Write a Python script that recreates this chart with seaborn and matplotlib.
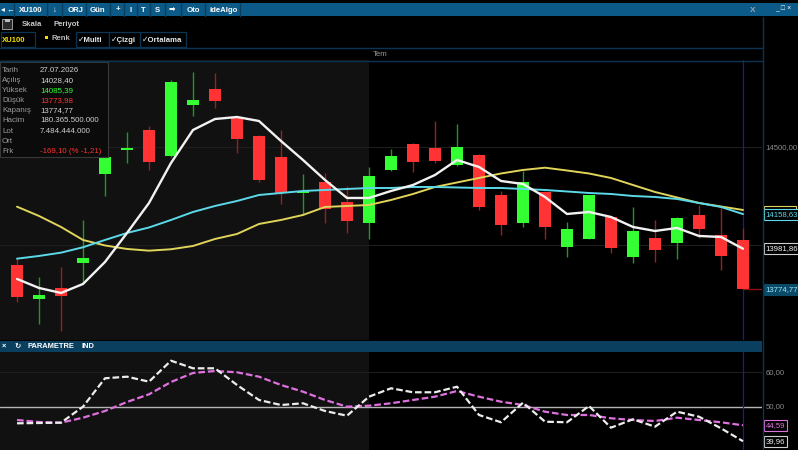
import seaborn as sns
import matplotlib.pyplot as plt
import pandas as pd
import numpy as np
from matplotlib.patches import Rectangle

sns.set_theme(style="dark", rc={"axes.facecolor": "black", "figure.facecolor": "black"})
plt.rcParams['font.family'] = ['Liberation Sans', 'DejaVu Sans']

# XU100 daily candles
opens = [13897.4, 13725.5, 13781.6, 13907.7, 14363.3, 14484.2, 14587.8, 14456.6, 14716.8, 14796.9,
         14650.5, 14557.1, 14451.5, 14264.8, 14324.0, 14221.9, 14111.7, 14383.7, 14516.3, 14494.4,
         14409.2, 14460.2, 14256.1, 14111.7, 14273.0, 13989.3, 14031.6, 14145.4, 13938.3, 14036.7,
         14009.7, 14154.1, 14052.0, 14028.40]
highs = [13934.7, 13837.8, 13888.8, 14128.6, 14475.5, 14579.1, 14609.7, 14842.9, 14882.1, 14877.0,
         14654.1, 14562.2, 14587.8, 14361.7, 14369.9, 14302.0, 14397.4, 14490.8, 14518.9, 14635.2,
         14616.8, 14462.8, 14276.5, 14378.6, 14276.5, 14116.8, 14256.1, 14147.4, 14193.4, 14128.6,
         14143.9, 14205.1, 14188.3, 14085.39]
lows = [13711.7, 13598.0, 13563.8, 13807.1, 14252.5, 14417.9, 14383.7, 14450.0, 14660.7, 14701.5,
        14468.9, 14322.4, 14210.2, 14154.1, 14111.7, 14060.7, 14030.1, 14381.0, 14373.5, 14420.9,
        14404.0, 14179.6, 14052.0, 14091.3, 14031.6, 13941.3, 14029.0, 13961.7, 13907.7, 13915.8,
        13928.1, 14035.2, 13873.5, 13773.98]
closes = [13737.2, 13745.9, 13742.3, 13936.2, 14450.0, 14497.4, 14423.0, 14834.2, 14739.3, 14734.2,
          14541.8, 14332.7, 14264.8, 14276.5, 14184.7, 14125.0, 14353.1, 14456.6, 14423.0, 14431.1,
          14499.5, 14193.4, 14103.1, 14324.0, 14094.4, 14081.1, 14254.6, 13984.2, 14072.4, 13975.5,
          14140.3, 14081.1, 13944.9, 13774.77]

# moving averages
ma_white = [13827.6, 13781.6, 13756.1, 13802.0, 13914.3, 14062.2, 14215.3, 14419.4, 14587.8, 14643.9,
            14654.1, 14633.7, 14531.6, 14434.7, 14332.7, 14240.8, 14240.8, 14276.5, 14307.1, 14358.2,
            14434.7, 14399.0, 14327.5, 14312.2, 14245.9, 14159.2, 14169.4, 14143.9, 14092.9, 14072.4,
            14087.8, 14046.9, 14041.8, 13981.86]
ma_cyan = [13931.1, 13944.9, 13961.7, 13989.3, 14026.5, 14062.2, 14090.3, 14128.6, 14169.4, 14200.0,
           14225.5, 14256.1, 14266.3, 14276.5, 14281.6, 14286.7, 14291.8, 14291.8, 14296.9, 14296.9,
           14294.4, 14291.8, 14291.8, 14286.7, 14281.6, 14274.0, 14266.3, 14261.2, 14251.0, 14245.9,
           14235.7, 14215.3, 14194.9, 14158.63]
ma_yellow = [14196.4, 14149.0, 14092.9, 14026.5, 13998.5, 13980.6, 13971.9, 13979.1, 13995.9, 14031.6,
             14057.1, 14108.2, 14128.6, 14154.1, 14194.9, 14200.0, 14205.1, 14230.6, 14261.2, 14296.9,
             14319.9, 14342.9, 14365.8, 14383.7, 14395.4, 14381.1, 14365.8, 14342.9, 14307.1, 14271.4,
             14243.4, 14215.3, 14197.4, 14179.6]

# lower indicator panel
ind_line = [45.17, 45.26, 45.35, 50.00, 58.26, 58.72, 57.27, 63.37, 61.16, 61.16,
            56.31, 51.95, 50.49, 50.99, 48.75, 47.38, 52.91, 55.35, 54.19, 54.19,
            55.81, 47.59, 45.47, 51.16, 45.64, 45.47, 50.20, 43.90, 46.34, 44.19,
            48.55, 47.09, 43.72, 39.96]
ind_avg = [46.13, 45.55, 45.35, 46.80, 48.75, 51.37, 53.60, 57.18, 59.80, 60.38,
           60.00, 58.72, 56.31, 54.36, 51.95, 50.00, 50.29, 50.99, 51.95, 52.91,
           54.56, 52.91, 51.45, 50.49, 48.55, 47.59, 47.59, 46.63, 46.13, 45.84,
           46.80, 46.13, 45.47, 44.59]

info_labels = ["Tarih", "Açılış", "Yüksek", "Düşük", "Kapanış", "Hacim", "Lot", "Ort", "Frk"]
info_values = ["27.07.2026", "14028,40", "14085,39", "13773,98", "13774,77",
               "180.365.500.000", "7.484.444.000", "", "-169,10 (% -1,21)"]

df = pd.DataFrame({"open": opens, "high": highs, "low": lows, "close": closes,
                   "ma_w": ma_white, "ma_c": ma_cyan, "ma_y": ma_yellow,
                   "ind": ind_line, "ind_avg": ind_avg})
df["idx"] = np.arange(len(df))
df["up"] = df["close"] >= df["open"]

W, H = 798, 450
fig = plt.figure(figsize=(W / 100, H / 100), dpi=100)
fig.patch.set_facecolor("black")

chart_w = 762 / W
ax = fig.add_axes([0, 110 / H, chart_w, 280 / H])
ax2 = fig.add_axes([0, 0, chart_w, 99 / H])

xmin, xmax = -0.773, 33.864
last = len(df) - 1

# ---------------- main price panel ----------------
ax.set_facecolor("black")
ax.axvspan(xmin, 16, color="#111111", zorder=0, lw=0)
for lvl in [14500, 14000]:
    ax.axhline(lvl, color="#1e1e1e", lw=0.8, zorder=0.5)
ax.axvline(last, color="#1c1c8c", lw=0.9, zorder=0.6)

up = df[df["up"]]
dn = df[~df["up"]]
ax.vlines(up["idx"], up["low"], up["high"], color="#1f9a1f", lw=1.0, zorder=2)
ax.vlines(dn["idx"], dn["low"], dn["high"], color="#9a1f1f", lw=1.0, zorder=2)
ax.bar(up["idx"], (up["close"] - up["open"]).clip(lower=8), bottom=up["open"], width=0.55,
       color="#33ff33", linewidth=0, zorder=3)
ax.bar(dn["idx"], (dn["open"] - dn["close"]).clip(lower=8), bottom=dn["close"], width=0.55,
       color="#ff3333", linewidth=0, zorder=3)
ax.hlines(closes[-1], last, xmax, color="#8a1010", lw=1.0, zorder=2)

sns.lineplot(data=df, x="idx", y="ma_y", ax=ax, color="#e0d45a", lw=1.4, zorder=4)
sns.lineplot(data=df, x="idx", y="ma_c", ax=ax, color="#5cd9e8", lw=1.4, zorder=4)
sns.lineplot(data=df, x="idx", y="ma_w", ax=ax, color="#f2f2f2", lw=1.7, zorder=5)

ax.set_xlim(xmin, xmax)
ax.set_ylim(13516, 14945)
ax.set_xticks([]); ax.set_yticks([])
ax.set_xlabel(""); ax.set_ylabel("")
for s in ax.spines.values():
    s.set_visible(False)

ty = ax.get_yaxis_transform()
lab = dict(transform=ty, ha="left", va="center", fontsize=5.6, clip_on=False, zorder=8)
ax.text(1.005, 14500, "14500,00", color="#8a8a8a", **lab)
# yellow MA label sits almost fully behind the cyan one
ax.add_patch(Rectangle((1.002, ma_yellow[-1] - 30), 0.043, 50, transform=ty, clip_on=False,
                       fc="black", ec="#e0d45a", lw=0.8, zorder=7))
ax.text(1.005, 14158.63, "14158,63", color="#5cd9e8",
        bbox=dict(boxstyle="square,pad=0.25", fc="black", ec="#5cd9e8", lw=0.8), **lab)
ax.text(1.005, 13981.86, "13981,86", color="#f2f2f2",
        bbox=dict(boxstyle="square,pad=0.25", fc="black", ec="#cfcfcf", lw=0.8), **lab)
ax.text(1.005, 13774.77, "13774,77", color="#9fe8ff",
        bbox=dict(boxstyle="square,pad=0.25", fc="#0b4a66", ec="#0b4a66", lw=0.8), **lab)

# ---------------- lower indicator panel ----------------
ax2.set_facecolor("black")
ax2.axvspan(xmin, 16, color="#111111", zorder=0, lw=0)
ax2.axhline(60, color="#1e1e1e", lw=0.8, zorder=0.5)
ax2.axhline(50, color="#b4b4b4", lw=1.0, zorder=0.6)
ax2.axvline(last, color="#1c1c8c", lw=0.9, zorder=0.6)
sns.lineplot(data=df, x="idx", y="ind_avg", ax=ax2, color="#e070e0", lw=1.6, zorder=3,
             dashes=False, linestyle=(0, (3, 1.3)))
sns.lineplot(data=df, x="idx", y="ind", ax=ax2, color="#ececec", lw=1.6, zorder=4,
             dashes=False, linestyle=(0, (3, 1.3)))
ax2.set_xlim(xmin, xmax)
ax2.set_ylim(37.41, 66.19)
ax2.set_xticks([]); ax2.set_yticks([])
ax2.set_xlabel(""); ax2.set_ylabel("")
for s in ax2.spines.values():
    s.set_visible(False)

ty2 = ax2.get_yaxis_transform()
lab2 = dict(transform=ty2, ha="left", va="center", fontsize=5.6, clip_on=False)
ax2.text(1.005, 60, "60,00", color="#8a8a8a", **lab2)
ax2.text(1.005, 50, "50,00", color="#8a8a8a", **lab2)
ax2.text(1.005, ind_avg[-1], "44,59", color="#e070e0",
         bbox=dict(boxstyle="square,pad=0.25", fc="black", ec="#e070e0", lw=0.8), **lab2)
ax2.text(1.005, ind_line[-1], "39,96", color="#ececec",
         bbox=dict(boxstyle="square,pad=0.25", fc="black", ec="#cfcfcf", lw=0.8), **lab2)

# ---------------- window chrome (pixel coordinates) ----------------
ui = fig.add_axes([0, 0, 1, 1], zorder=10)
ui.set_xlim(0, W); ui.set_ylim(H, 0)
ui.axis("off")

line_c = "#0a3452"
ui.add_patch(Rectangle((0, 3), W, 13, fc="#0c5a88", ec="none"))
for xs in [14, 47, 62, 86, 110, 124, 137, 150, 165, 181, 205, 240]:
    ui.plot([xs, xs], [3, 16], color="#083e60", lw=1)
tb = dict(color="white", fontsize=5.6, fontweight="bold", va="center")
ui.text(1, 10, "◂ ←", **tb)
ui.text(19, 10, "XU100", **tb)
ui.text(53, 10, "↓", **tb)
ui.text(68, 10, "ORJ", **tb)
ui.text(90, 10, "Gün", **tb)
ui.text(116, 10, "+", **tb)
ui.text(130, 10, "I", **tb)
ui.text(141, 10, "T", **tb)
ui.text(155, 10, "S", **tb)
ui.text(169, 10, "➡", **tb)
ui.text(187, 10, "Oto", **tb)
ui.text(209, 10, "ideAlgo", **tb)
ui.text(750, 10, "X", color="#9aa0a6", fontsize=6, fontweight="bold", va="center")
ui.text(775, 9, "_ □ ×", color="white", fontsize=5, va="center")

ui.add_patch(Rectangle((2, 18.5), 10, 10, fc="#2a2a2a", ec="#9a9a9a", lw=0.7))
ui.add_patch(Rectangle((4.5, 18.5), 5, 3.5, fc="#bbbbbb", ec="none"))
ui.text(22, 24, "Skala", color="#c8c8c8", fontsize=5.6, fontweight="bold", va="center")
ui.text(54, 24, "Periyot", color="#c8c8c8", fontsize=5.6, fontweight="bold", va="center")

ui.add_patch(Rectangle((0.5, 32), 34, 15, fc="black", ec=line_c, lw=0.9))
ui.text(2, 40, "XU100", color="#f0e000", fontsize=5.6, fontweight="bold", va="center")
ui.add_patch(Rectangle((45, 36), 3, 3, fc="#f0e000", ec="none"))
ui.text(51, 38.5, "Renk", color="#b8b8b8", fontsize=5.6, fontweight="bold", va="center")
for x0, w, t in [(76, 33, "✓Multi"), (109, 31, "✓Çizgi"), (140, 46, "✓Ortalama")]:
    ui.add_patch(Rectangle((x0, 32), w, 15, fc="black", ec=line_c, lw=0.9))
    ui.text(x0 + 2, 40, t, color="#e8e8e8", fontsize=5.6, fontweight="bold", va="center")

ui.plot([0, 762], [47.5, 47.5], color=line_c, lw=1)
ui.plot([0, 762], [60.5, 60.5], color=line_c, lw=1)
ui.plot([762.5, 762.5], [17, H], color=line_c, lw=1)
ui.text(380, 54, "Tem", color="#9a9a9a", fontsize=5.6, ha="center", va="center")

# data window box
ui.add_patch(Rectangle((0, 62), 108, 95, fc="#0b0b0b", ec="#383838", lw=0.8))
val_colors = ["#d0d0d0", "#d0d0d0", "#33ff33", "#ff3333", "#d0d0d0",
              "#d0d0d0", "#d0d0d0", "#d0d0d0", "#ff3333"]
for i, (l, v) in enumerate(zip(info_labels, info_values)):
    yy = 70.5 + i * 10.1
    ui.text(2, yy, l, color="#9a9a9a", fontsize=5.7, va="center")
    ui.text(40, yy, v, color=val_colors[i], fontsize=5.7, va="center")

# lower panel header bar
ui.add_patch(Rectangle((0, 341), 762, 10.5, fc="#0b3f5f", ec="none"))
hb = dict(color="white", fontsize=5.4, fontweight="bold", va="center")
ui.text(2, 346.5, "×", **hb)
ui.text(14, 346.5, "↻", **hb)
ui.text(27, 346.5, "PARAMETRE", **hb)
ui.text(82, 346.5, "IND", **hb)

fig.savefig("out.png", dpi=100, facecolor="black")
